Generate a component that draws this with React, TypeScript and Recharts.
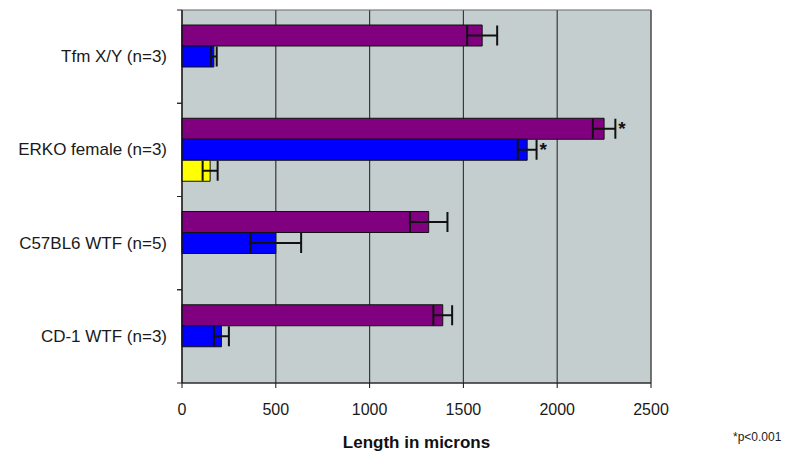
import React from 'react';
import { BarChart, Bar, XAxis, YAxis, CartesianGrid, ErrorBar, LabelList, ReferenceArea } from 'recharts';

const categories = ['Tfm X/Y (n=3)', 'ERKO female (n=3)', 'C57BL6 WTF (n=5)', 'CD-1 WTF (n=3)'];
const purpleValues = [1600, 2250, 1315, 1390];
const purpleErrors = [80, 60, 100, 50];
const blueValues = [170, 1840, 500, 210];
const blueErrors = [15, 50, 135, 40];
const yellowValues: (number | null)[] = [null, 150, null, null];
const yellowErrors: (number | null)[] = [null, 40, null, null];
const purpleSig = ['', '*', '', ''];
const blueSig = ['', '*', '', ''];
const xTicks = [0, 500, 1000, 1500, 2000, 2500];

const data = categories.map((c, i) => ({
  category: c,
  purple: purpleValues[i],
  purpleErr: purpleErrors[i],
  blue: blueValues[i],
  blueErr: blueErrors[i],
  yellow: yellowValues[i],
  yellowErr: yellowErrors[i],
  purpleSig: purpleSig[i],
  blueSig: blueSig[i],
}));

const FONT = '"Liberation Sans", Arial, sans-serif';

const makeStar = (values: number[], errors: number[], sig: string[]) => (props: any) => {
  const { x, y, width, height, index } = props;
  if (index == null || !sig[index]) return null;
  const v = values[index];
  const e = errors[index];
  const end = Number(x) + (Number(width) * (v + e)) / v;
  return (
    <text x={end + 3} y={Number(y) + Number(height) / 2 + 6} fontSize={19} fontWeight="bold" fill="#111" fontFamily={FONT}>
      {sig[index]}
    </text>
  );
};

const YTick = (props: any) => {
  const { x, y, payload } = props;
  const off = payload && payload.offset != null ? payload.offset : 0;
  return (
    <g>
      <text x={x - 15} y={y} textAnchor="end" dominantBaseline="central" fontSize={17} fill="#1a1a1a" fontFamily={FONT}>
        {payload.value}
      </text>
      <line x1={x - 5} x2={x} y1={y - off} y2={y - off} stroke="#222" strokeWidth={1} />
      <line x1={x - 5} x2={x} y1={y + off} y2={y + off} stroke="#222" strokeWidth={1} />
    </g>
  );
};

export default function App() {
  return (
    <div style={{ position: 'absolute', left: 0, top: 0, width: 800, height: 468, background: '#fff' }}>
      <BarChart
        width={800}
        height={468}
        data={data}
        layout="vertical"
        margin={{ top: 10, right: 149, bottom: 0, left: 0 }}
        barGap={0}
        barSize={21}
      >
        <CartesianGrid horizontal={false} vertical={true} stroke="#3a3a3a" strokeWidth={1.2} fill="#C4CECE" fillOpacity={1} />
        <ReferenceArea x1={0} x2={2500} fill="none" stroke="#666" strokeWidth={1} />
        <XAxis
          type="number"
          domain={[0, 2500]}
          ticks={xTicks}
          height={85}
          axisLine={{ stroke: '#111' }}
          tickLine={{ stroke: '#111' }}
          tickSize={5}
          tickMargin={16}
          tick={{ fontSize: 16, fill: '#1a1a1a', fontFamily: FONT }}
          label={{
            value: 'Length in microns',
            position: 'insideBottom',
            offset: 20,
            fontSize: 17,
            fontWeight: 'bold',
            fill: '#111',
            fontFamily: FONT,
          }}
        />
        <YAxis
          type="category"
          dataKey="category"
          width={182}
          axisLine={{ stroke: '#111' }}
          tickLine={false}
          tickSize={0}
          tickMargin={0}
          tick={<YTick />}
          interval={0}
        />
        <Bar dataKey="purple" fill="#800080" stroke="#111" strokeWidth={1} isAnimationActive={false}>
          <ErrorBar dataKey="purpleErr" direction="x" width={10} stroke="#111" strokeWidth={2} />
          <LabelList dataKey="purpleSig" content={makeStar(purpleValues, purpleErrors, purpleSig)} />
        </Bar>
        <Bar dataKey="blue" fill="#0000FF" stroke="#111" strokeWidth={1} isAnimationActive={false}>
          <ErrorBar dataKey="blueErr" direction="x" width={10} stroke="#111" strokeWidth={2} />
          <LabelList dataKey="blueSig" content={makeStar(blueValues, blueErrors, blueSig)} />
        </Bar>
        <Bar dataKey="yellow" fill="#FFFF00" stroke="#111" strokeWidth={1} isAnimationActive={false}>
          <ErrorBar dataKey="yellowErr" direction="x" width={10} stroke="#111" strokeWidth={2} />
        </Bar>
      </BarChart>
      <div
        style={{
          position: 'absolute',
          left: 733,
          top: 430,
          fontSize: 12,
          fontFamily: FONT,
          color: '#222',
          whiteSpace: 'nowrap',
        }}
      >
        *p&lt;0.001
      </div>
    </div>
  );
}
